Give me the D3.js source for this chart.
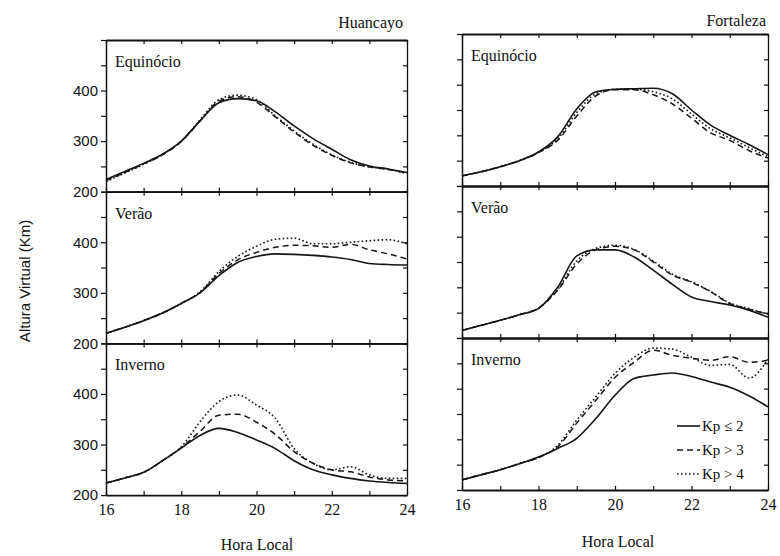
<!DOCTYPE html>
<html>
<head>
<meta charset="utf-8">
<script src="https://cdn.jsdelivr.net/npm/d3@7"></script>
<style>
  body { margin: 0; background: #fff; }
  svg text { font-family: "Liberation Serif", "Times New Roman", serif; fill: #111; }
  svg text.sans { font-family: "Liberation Sans", Arial, sans-serif; }
  .axis path, .axis line { stroke: #111; }
  .axis text { fill: #111; }
</style>
</head>
<body>
<div id="chart" style="width:780px;height:556px"></div>
<script>
// hours (local time), half-hour steps
const hours = [16, 16.5, 17, 17.5, 18, 18.5, 19, 19.5, 20, 20.5, 21, 21.5, 22, 22.5, 23, 23.5, 24];

// Huancayo - virtual height (km)
const huaEquKp2 = [224, 240, 256, 274, 300, 340, 376, 384, 380, 358, 330, 305, 284, 263, 251, 245, 238];
const huaEquKp3 = [222, 238, 255, 273, 299, 340, 379, 388, 377, 348, 318, 292, 272, 257, 249, 244, 237];
const huaEquKp4 = [220, 237, 254, 273, 300, 342, 382, 391, 382, 350, 320, 294, 273, 258, 249, 244, 236];

const huaVerKp2 = [220, 232, 245, 260, 279, 300, 334, 360, 372, 377, 376, 374, 371, 366, 358, 356, 355];
const huaVerKp3 = [220, 232, 245, 260, 279, 301, 338, 365, 380, 390, 394, 393, 390, 396, 385, 377, 367];
const huaVerKp4 = [220, 232, 245, 260, 279, 302, 342, 372, 392, 406, 408, 397, 397, 400, 403, 405, 397];

const huaInvKp2 = [224, 234, 245, 268, 293, 318, 332, 324, 309, 292, 268, 250, 240, 233, 228, 225, 223];
const huaInvKp3 = [224, 234, 245, 268, 294, 326, 358, 360, 344, 320, 286, 263, 250, 246, 236, 230, 228];
const huaInvKp4 = [224, 234, 245, 268, 295, 345, 385, 398, 378, 352, 292, 263, 250, 256, 240, 233, 233];

// Fortaleza - virtual height (km)
const forEquKp2 = [220, 228, 238, 250, 267, 297, 352, 386, 391, 392, 393, 382, 350, 320, 300, 282, 262];
const forEquKp3 = [220, 228, 238, 250, 266, 290, 338, 378, 390, 390, 380, 362, 334, 305, 290, 270, 255];
const forEquKp4 = [220, 228, 238, 250, 266, 293, 345, 382, 391, 391, 386, 372, 342, 313, 295, 276, 258];

const forVerKp2 = [215, 225, 235, 246, 258, 300, 362, 374, 374, 360, 334, 306, 281, 272, 265, 255, 241];
const forVerKp3 = [215, 225, 235, 246, 259, 294, 346, 374, 381, 374, 350, 324, 310, 291, 268, 257, 247];
const forVerKp4 = [215, 225, 235, 246, 259, 296, 352, 377, 383, 375, 352, 326, 311, 292, 269, 258, 247];

const forInvKp2 = [220, 230, 240, 252, 265, 282, 302, 341, 387, 420, 427, 431, 424, 413, 403, 386, 364];
const forInvKp3 = [220, 230, 240, 252, 264, 285, 332, 377, 422, 452, 476, 466, 460, 456, 463, 452, 456];
const forInvKp4 = [220, 230, 240, 252, 264, 288, 338, 384, 430, 462, 480, 478, 462, 446, 448, 421, 458];

const stations = ["Huancayo", "Fortaleza"];
const seasons = ["Equinócio", "Verão", "Inverno"];
const legendLabels = ["Kp \u2264 2", "Kp > 3", "Kp > 4"];
const xTickLabels = [16, 18, 20, 22, 24];
const yTickLabels = [200, 300, 400];

var svg = d3.select("#chart")
    .append("svg")
        .attr("width", 780)
        .attr("height", 556);

// column layout
var columns = [
    {x0: 106, x1: 407, top: 40, ph: 151.7, yLabels: true,  titleX: 403, titleY: 28, xlabX: 257, xlabY: 550},
    {x0: 462, x1: 768, top: 34, ph: 152,   yLabels: false, titleX: 766, titleY: 26, xlabX: 618, xlabY: 547}
];

var panels = [
    {col: 0, row: 0, series: [huaEquKp2, huaEquKp3, huaEquKp4]},
    {col: 0, row: 1, series: [huaVerKp2, huaVerKp3, huaVerKp4]},
    {col: 0, row: 2, series: [huaInvKp2, huaInvKp3, huaInvKp4]},
    {col: 1, row: 0, series: [forEquKp2, forEquKp3, forEquKp4]},
    {col: 1, row: 1, series: [forVerKp2, forVerKp3, forVerKp4]},
    {col: 1, row: 2, series: [forInvKp2, forInvKp3, forInvKp4]}
];

var dashes = [null, "6,4", "1.6,2.4"];
var widths = [1.6, 1.5, 1.6];

function styleAxis(g, w) {
    g.select(".domain").attr("stroke-width", w || 1.8);
    g.selectAll(".tick line").attr("stroke-width", 1.2);
}

columns.forEach(function(c, ci) {
    var x = d3.scaleLinear().domain([16, 24]).range([c.x0, c.x1]);
    c.x = x;

    svg.append("text")
        .attr("x", c.titleX)
        .attr("y", c.titleY)
        .attr("text-anchor", "end")
        .attr("font-size", 16)
        .text(stations[ci]);

    // bottom tick labels
    var bottom = c.top + 3 * c.ph;
    var gl = svg.append("g")
        .attr("class", "axis")
        .attr("transform", "translate(0," + bottom + ")")
        .call(d3.axisBottom(x).tickValues(xTickLabels).tickSize(0).tickPadding(9));
    gl.select(".domain").remove();
    gl.selectAll("text").attr("font-size", 16);

    svg.append("text")
        .attr("x", c.xlabX)
        .attr("y", c.xlabY)
        .attr("text-anchor", "middle")
        .attr("font-size", 16)
        .text("Hora Local");
});

panels.forEach(function(p) {
    var c = columns[p.col];
    var x = c.x;
    var top = c.top + p.row * c.ph;
    var bottom = top + c.ph;
    var y = d3.scaleLinear().domain([200, 500]).range([bottom, top]);

    var hourTicks = d3.range(16, 25);
    var yTicks = d3.range(200, 501, 50);

    var gt = svg.append("g").attr("class", "axis")
        .attr("transform", "translate(0," + top + ")")
        .call(d3.axisBottom(x).tickValues(hourTicks).tickSize(4).tickSizeOuter(0).tickFormat(""));
    styleAxis(gt);

    var gb = svg.append("g").attr("class", "axis")
        .attr("transform", "translate(0," + bottom + ")")
        .call(d3.axisTop(x).tickValues(hourTicks).tickSize(4).tickSizeOuter(0).tickFormat(""));
    styleAxis(gb);

    var gy = svg.append("g").attr("class", "axis")
        .attr("transform", "translate(" + c.x0 + ",0)")
        .call(d3.axisLeft(y).tickValues(yTicks).tickSize(5).tickSizeOuter(0).tickPadding(3)
            .tickFormat(d => (c.yLabels && yTickLabels.includes(d)) ? d : ""));
    styleAxis(gy, 1.5);
    gy.selectAll("text")
        .attr("class", "sans")
        .attr("font-size", 15);

    var gr = svg.append("g").attr("class", "axis")
        .attr("transform", "translate(" + c.x1 + ",0)")
        .call(d3.axisRight(y).tickValues(yTicks).tickSize(-4).tickSizeOuter(0).tickFormat(""));
    styleAxis(gr, 1.3);

    var line = d3.line()
        .x((d, i) => x(hours[i]))
        .y(d => y(d))
        .curve(d3.curveMonotoneX);

    p.series.forEach(function(s, si) {
        svg.append("path")
            .datum(s)
            .attr("fill", "none")
            .attr("stroke", "#151515")
            .attr("stroke-width", widths[si])
            .attr("stroke-dasharray", dashes[si])
            .attr("d", line);
    });

    svg.append("text")
        .attr("x", c.x0 + 9)
        .attr("y", top + 27)
        .attr("font-size", 16)
        .text(seasons[p.row]);

    // legend in Fortaleza / Inverno
    if (p.col === 1 && p.row === 2) {
        legendLabels.forEach(function(lab, li) {
            var ly = 426 + li * 24;
            svg.append("line")
                .attr("x1", 677).attr("x2", 700)
                .attr("y1", ly).attr("y2", ly)
                .attr("stroke", "#151515")
                .attr("stroke-width", widths[li])
                .attr("stroke-dasharray", dashes[li]);
            svg.append("text")
                .attr("x", 702)
                .attr("y", ly + 5)
                .attr("font-size", 15)
                .text(lab);
        });
    }
});

// y axis title
svg.append("text")
    .attr("class", "sans")
    .attr("transform", "translate(30,281) rotate(-90)")
    .attr("text-anchor", "middle")
    .attr("font-size", 15)
    .text("Altura Virtual (Km)");
</script>
</body>
</html>
